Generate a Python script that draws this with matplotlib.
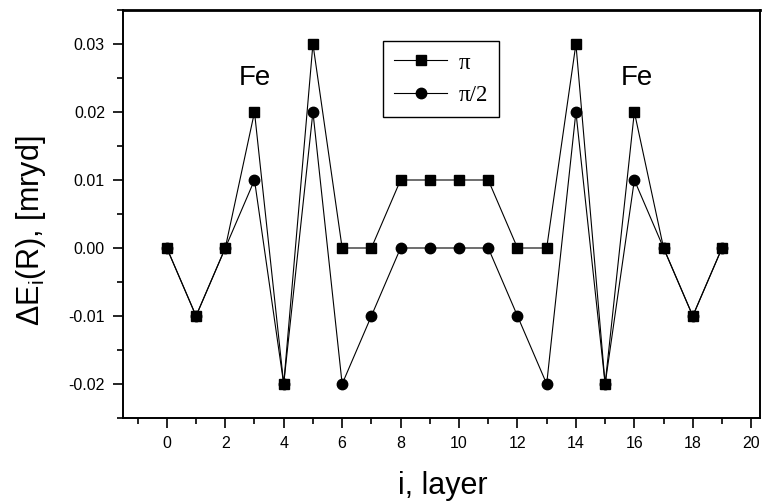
import matplotlib
matplotlib.use('Agg')
import matplotlib.pyplot as plt
from matplotlib.ticker import MultipleLocator, FormatStrFormatter

plt.rcParams['font.family'] = ['Liberation Sans', 'DejaVu Sans']
plt.rcParams['mathtext.fontset'] = 'custom'
plt.rcParams['mathtext.rm'] = 'Liberation Sans'
plt.rcParams['mathtext.it'] = 'Liberation Sans'
plt.rcParams['axes.unicode_minus'] = False

# layer index and energy differences (mryd)
layers = list(range(20))
e_pi = [0.00, -0.01, 0.00, 0.02, -0.02, 0.03, 0.00, 0.00, 0.01, 0.01,
        0.01, 0.01, 0.00, 0.00, 0.03, -0.02, 0.02, 0.00, -0.01, 0.00]
e_pi2 = [0.00, -0.01, 0.00, 0.01, -0.02, 0.02, -0.02, -0.01, 0.00, 0.00,
         0.00, 0.00, -0.01, -0.02, 0.02, -0.02, 0.01, 0.00, -0.01, 0.00]

fig = plt.figure(figsize=(7.64, 5.01), dpi=100)
ax = fig.add_axes([123 / 764, 1 - 418 / 501, 637 / 764, 408 / 501])

ax.plot(layers, e_pi2, color='black', lw=0.8, marker='o', ms=7.5,
        label='π/2', zorder=2)
ax.plot(layers, e_pi, color='black', lw=0.8, marker='s', ms=7,
        label='π', zorder=3)

ax.set_xlim(-1.5, 20.3)
ax.set_ylim(-0.025, 0.035)

ax.xaxis.set_major_locator(MultipleLocator(2))
ax.xaxis.set_minor_locator(MultipleLocator(1))
ax.yaxis.set_major_locator(MultipleLocator(0.01))
ax.yaxis.set_minor_locator(MultipleLocator(0.005))
ax.yaxis.set_major_formatter(FormatStrFormatter('%.2f'))

ax.tick_params(which='both', direction='out', top=False, right=False,
               labelsize=11.5, width=1.2)
ax.tick_params(which='major', length=7, pad=6)
ax.tick_params(which='minor', length=4)
for s in ax.spines.values():
    s.set_linewidth(1.4)
ax.spines['top'].set_linewidth(2)

ax.text(3, 0.025, 'Fe', fontsize=20, ha='center', va='center')
ax.text(16.1, 0.025, 'Fe', fontsize=20, ha='center', va='center')

ax.set_xlabel('i, layer', fontsize=22)
ax.xaxis.set_label_coords(0.502, -0.13)
ax.set_ylabel(r'$\Delta$E$_{\mathrm{i}}$(R), [mryd]', fontsize=22)
ax.yaxis.set_label_coords(-0.118, 0.458)

handles, labels = ax.get_legend_handles_labels()
leg = ax.legend(handles[::-1], labels[::-1], loc='upper left',
                bbox_to_anchor=(0.408, 0.924), borderaxespad=0,
                fancybox=False, edgecolor='black', framealpha=1,
                handlelength=2.3, handletextpad=0.5, labelspacing=0.5,
                borderpad=0.5,
                prop={'family': 'Liberation Serif', 'size': 16.5})
leg.get_frame().set_linewidth(1.0)

plt.savefig('out.png', dpi=100)
